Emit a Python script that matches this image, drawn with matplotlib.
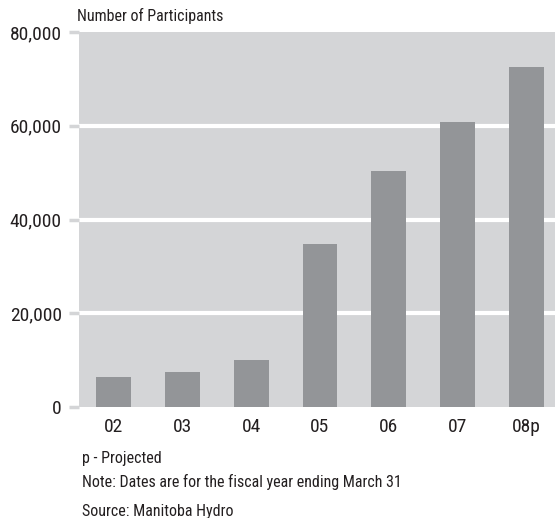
import matplotlib
matplotlib.use('Agg')
import matplotlib.pyplot as plt
from matplotlib import font_manager as fm
import numpy as np

years = ['02', '03', '04', '05', '06', '07', '08p']
participants = [6400, 7500, 10000, 34800, 50400, 60800, 72500]
yticks = [0, 20000, 40000, 60000, 80000]
notes = ['p - Projected',
         'Note: Dates are for the fiscal year ending March 31',
         'Source: Manitoba Hydro']

# look for a narrow face, the reference uses a condensed sans
fonts = [(f.name, f.stretch) for f in fm.fontManager.ttflist]
family, stretch, scale = 'DejaVu Sans', 'normal', 0.8
for name in ['Roboto Condensed', 'Liberation Sans Narrow', 'Open Sans Condensed']:
    if any(n == name for n, s in fonts):
        family, stretch, scale = name, 'normal', 1.0
        break
else:
    if any(n == 'DejaVu Sans' and s in ('condensed', 'semi-condensed') for n, s in fonts):
        family, stretch, scale = 'DejaVu Sans', 'condensed', 0.92

plt.rcParams['font.family'] = [family, 'DejaVu Sans']
plt.rcParams['font.stretch'] = stretch
txt = '#231f20'
bg = '#d4d5d7'
bar_col = '#939598'

fig = plt.figure(figsize=(5.55, 5.18), dpi=100)
ax = fig.add_axes([79/555, 111/518, 1 - 79/555, (407-32)/518])
ax.set_facecolor(bg)

x = np.arange(len(years))
for yv in yticks[1:-1]:
    ax.axhline(yv, color='white', lw=3, zorder=1)
ax.bar(x, participants, width=0.507, color=bar_col, zorder=2)

ax.set_xlim(-0.5, 6.413)
ax.set_ylim(0, 80000)
ax.set_yticks(yticks)
ax.set_yticklabels(['{:,}'.format(v) for v in yticks], fontsize=14*scale, color=txt)
ax.set_xticks(x)
ax.set_xticklabels(years, fontsize=14*scale, color=txt)
ax.tick_params(axis='y', length=7.5, width=2.5, color=bg, pad=5)
ax.tick_params(axis='x', length=0, pad=8)
for s in ax.spines.values():
    s.set_visible(False)

fig.text(77/555, 1 - 21/518, 'Number of Participants', fontsize=11.5*scale, color=txt,
         va='baseline', ha='left')
for ytxt, t in zip([463, 487, 516], notes):
    fig.text(82/555, 1 - ytxt/518, t, fontsize=11.5*scale, color=txt,
             va='baseline', ha='left')

fig.savefig('out.png', dpi=100)
